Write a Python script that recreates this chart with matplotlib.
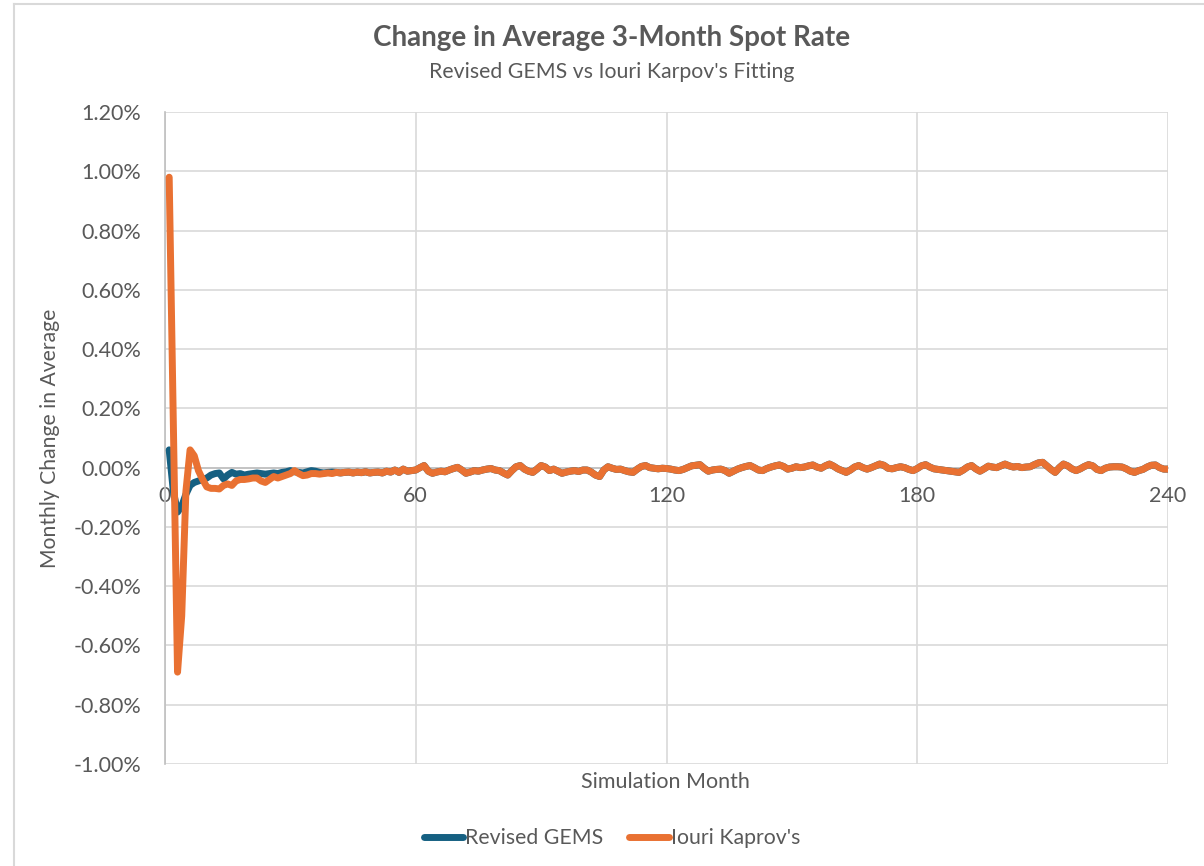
import matplotlib.pyplot as plt
import numpy as np

plt.rcParams['font.family'] = ['Lato', 'DejaVu Sans']

# monthly change in average 3-month spot rate, in percent
months = np.arange(1, 241)

karpov = [
    0.98, 0.15, -0.69, -0.50, -0.08, 0.06, 0.04, -0.01, -0.04, -0.065,
    -0.07, -0.07, -0.072, -0.06, -0.055, -0.06, -0.045, -0.04, -0.04, -0.038,
    -0.035, -0.035, -0.045, -0.05, -0.04, -0.03, -0.035, -0.03, -0.025, -0.02,
    -0.01, -0.02, -0.027, -0.025, -0.02, -0.02, -0.022, -0.02, -0.018, -0.02,
    -0.016, -0.018, -0.016, -0.015, -0.018, -0.015, -0.017, -0.014, -0.018, -0.016,
    -0.015, -0.018, -0.012, -0.015, -0.008, -0.016, -0.005, -0.012, -0.01, -0.008,
    0.0, 0.007, -0.012, -0.019, -0.015, -0.012, -0.014, -0.008, -0.003, 0.001,
    -0.008, -0.019, -0.015, -0.01, -0.012, -0.008, -0.005, -0.003, -0.008, -0.01,
    -0.018, -0.025, -0.01, 0.003, 0.007, -0.005, -0.012, -0.016, -0.005, 0.007,
    0.002, -0.01, -0.005, -0.012, -0.019, -0.015, -0.012, -0.01, -0.013, -0.008,
    -0.008, -0.015, -0.025, -0.03, -0.008, 0.003, -0.002, -0.006, -0.005, -0.01,
    -0.014, -0.016, -0.005, 0.004, 0.007, 0.0, -0.002, -0.004, -0.002, -0.003,
    -0.005, -0.008, -0.01, -0.006, 0.0, 0.006, 0.008, 0.01, -0.002, -0.012,
    -0.008, -0.006, -0.005, -0.01, -0.019, -0.012, -0.005, 0.0, 0.004, 0.007,
    0.0, -0.008, -0.01, -0.003, 0.002, 0.006, 0.009, 0.004, -0.005, -0.002,
    0.003, 0.0, 0.002, 0.006, 0.009, 0.002, -0.002, 0.006, 0.012, 0.005,
    -0.004, -0.01, -0.016, -0.008, 0.002, 0.007, 0.0, -0.005, 0.0, 0.006,
    0.012, 0.008, -0.002, -0.004, 0.0, 0.003, 0.0, -0.006, -0.01, -0.003,
    0.006, 0.01, 0.002, -0.004, -0.006, -0.008, -0.01, -0.012, -0.014, -0.016,
    -0.008, 0.002, 0.007, -0.004, -0.012, -0.004, 0.005, 0.002, 0.0, 0.006,
    0.012, 0.006, 0.002, 0.004, 0.0, 0.002, 0.003, 0.01, 0.016, 0.018,
    0.006, -0.006, -0.016, 0.0, 0.012, 0.006, -0.004, -0.01, -0.004, 0.004,
    0.01, 0.006, -0.006, -0.01, -0.002, 0.002, 0.003, 0.003, 0.002, -0.004,
    -0.012, -0.016, -0.01, -0.006, 0.002, 0.008, 0.009, 0.0, -0.005, -0.005,
]

gems_early = [
    0.06, -0.08, -0.15, -0.13, -0.09, -0.06, -0.05, -0.045, -0.04, -0.035,
    -0.025, -0.02, -0.018, -0.038, -0.025, -0.016, -0.022, -0.02, -0.025, -0.022,
    -0.02, -0.018, -0.02, -0.022, -0.02, -0.018, -0.02, -0.016, -0.014, -0.01,
    -0.014, -0.016, -0.018, -0.014, -0.01, -0.012, -0.016, -0.018, -0.016, -0.015,
]
# after ~month 40 the two curves sit on top of each other
gems = gems_early + karpov[40:]

series_names = ['Revised GEMS', "Iouri Kaprov's"]
colors = ['#156082', '#E97132']
x_ticks = [0, 60, 120, 180, 240]
y_ticks = [-1.0, -0.8, -0.6, -0.4, -0.2, 0.0, 0.2, 0.4, 0.6, 0.8, 1.0, 1.2]

text_col = '#595959'
grid_col = '#D9D9D9'
axis_col = '#BFBFBF'
LW = 5.0

fig = plt.figure(figsize=(12.04, 8.66), dpi=100)
ax = fig.add_axes([165 / 1204, 1 - 764 / 866, 1003 / 1204, 652 / 866])

ax.plot(months, gems, color=colors[0], lw=LW, solid_capstyle='round',
        solid_joinstyle='round', label=series_names[0], zorder=3)
ax.plot(months, karpov, color=colors[1], lw=LW, solid_capstyle='round',
        solid_joinstyle='round', label=series_names[1], zorder=4)

ax.set_xlim(0, 240)
ax.set_ylim(-1.0, 1.2)
ax.set_xticks(x_ticks)
ax.set_yticks(y_ticks)
ax.set_yticklabels([f"{v + 0.0:.2f}%" for v in y_ticks])

ax.grid(True, color=grid_col, lw=1.2)
ax.set_axisbelow(True)
for s in ['top', 'right']:
    ax.spines[s].set_visible(False)
ax.spines['bottom'].set_position(('data', 0))
ax.spines['bottom'].set_color(axis_col)
ax.spines['left'].set_color(axis_col)
ax.spines['bottom'].set_linewidth(1.2)
ax.spines['left'].set_linewidth(1.2)

ax.tick_params(axis='both', length=0, labelsize=15.5, labelcolor=text_col)
ax.tick_params(axis='x', pad=13)
ax.tick_params(axis='y', pad=17)

fig.text(50 / 1204, 1 - 438 / 866, 'Monthly Change in Average', rotation=90,
         ha='center', va='center', fontsize=15.2, color=text_col)
fig.text(665 / 1204, 1 - 782 / 866, 'Simulation Month', ha='center', va='center',
         fontsize=15.5, color=text_col)

fig.text(612 / 1204, 1 - 38 / 866, 'Change in Average 3-Month Spot Rate',
         ha='center', va='center', fontsize=20, fontweight='bold', color=text_col)
fig.text(612 / 1204, 1 - 72 / 866, "Revised GEMS vs Iouri Karpov's Fitting",
         ha='center', va='center', fontsize=15.3, color=text_col)

leg = fig.legend(loc='center', bbox_to_anchor=(612 / 1204, 1 - 838 / 866), ncol=2,
                 frameon=False, fontsize=15.3, handlelength=1.85, handletextpad=0.12,
                 columnspacing=1.2)
for t in leg.get_texts():
    t.set_color(text_col)
for h in leg.legend_handles:
    h.set_linewidth(LW)

# chart area border (left and top edges visible in the screenshot)
fig.add_artist(plt.Line2D([13.5 / 1204, 13.5 / 1204], [0, 1 - 4 / 866],
                          transform=fig.transFigure, color=grid_col, lw=1.5))
fig.add_artist(plt.Line2D([13.5 / 1204, 1], [1 - 4 / 866, 1 - 4 / 866],
                          transform=fig.transFigure, color=grid_col, lw=1.5))

fig.savefig('out.png', dpi=100)
